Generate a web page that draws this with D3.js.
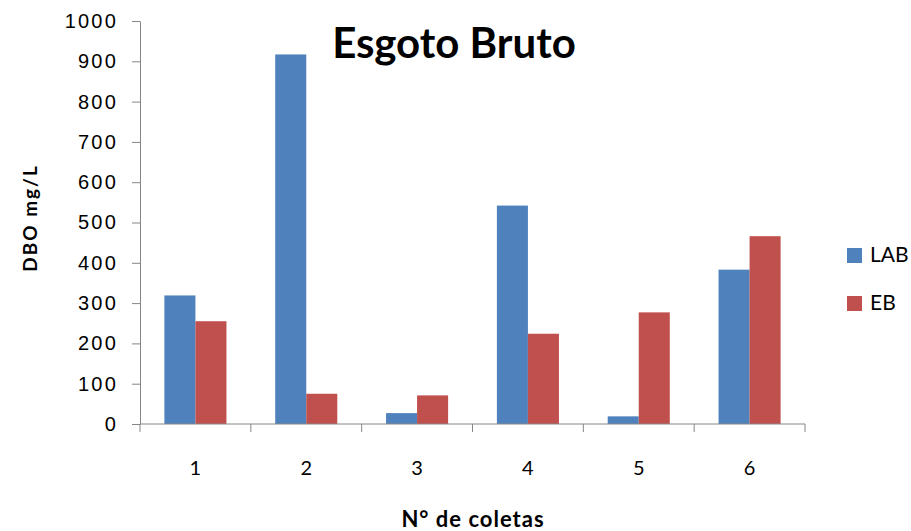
<!DOCTYPE html>
<html>
<head>
<meta charset="utf-8">
<script src="https://cdn.jsdelivr.net/npm/d3@7"></script>
<style>
    body { margin: 0; background: #fff; }
    svg { font-family: Lato, "Open Sans", sans-serif; }
    .axis path, .axis line { stroke: #868686; }
    .axis text { fill: #000; font-size: 20px; letter-spacing: 2.2px; }
</style>
</head>
<body>
<div id="chart"></div>
<script>
// Data
const categories = ["1", "2", "3", "4", "5", "6"];
const series = ["LAB", "EB"];
const labValues = [319, 917, 27, 542, 19, 383];
const ebValues = [255, 75, 71, 224, 277, 466];
const yTicks = [0, 100, 200, 300, 400, 500, 600, 700, 800, 900, 1000];
const colors = ["#4F81BD", "#C0504D"];

let margin = {top: 21, left: 140, right: 106, bottom: 107};
let width = 911 - margin.left - margin.right;
let height = 531 - margin.top - margin.bottom;

let svg = d3.select("#chart").append("svg")
    .attr("width", 911)
    .attr("height", 531);

let g = svg.append("g")
    .attr("transform", `translate(${margin.left}, ${margin.top})`);

let tableData = categories.map((c, i) => ({cat: c, values: [labValues[i], ebValues[i]]}));

// Scales
let x0 = d3.scaleBand().domain(categories).range([0, width]);
let x1 = d3.scaleBand().domain(series).range([x0.bandwidth() * 0.22, x0.bandwidth() * 0.78]);
let y = d3.scaleLinear().domain([0, 1000]).range([height, 0]);

// Bars
let groups = g.selectAll(".grp")
    .data(tableData)
    .enter().append("g")
    .attr("class", "grp")
    .attr("transform", d => `translate(${x0(d.cat)}, 0)`);

groups.selectAll("rect")
    .data(d => d.values.map((v, i) => ({key: series[i], value: v, i: i})))
    .enter().append("rect")
    .attr("x", d => x1(d.key))
    .attr("y", d => y(d.value))
    .attr("width", x1.bandwidth())
    .attr("height", d => y(0) - y(d.value))
    .attr("fill", d => colors[d.i]);

// Axes
let yAxis = d3.axisLeft(y).tickValues(yTicks).tickFormat(d3.format("d"))
    .tickSize(8).tickPadding(14).tickSizeOuter(0);
g.append("g").attr("class", "axis").call(yAxis);

// x axis: ticks at category boundaries
let xAxisG = g.append("g").attr("class", "axis")
    .attr("transform", `translate(0, ${height})`);
xAxisG.append("line").attr("x1", 0).attr("x2", width);
let bounds = categories.map(c => x0(c)).concat([width]);
xAxisG.selectAll(".tk").data(bounds).enter().append("line")
    .attr("x1", d => d).attr("x2", d => d)
    .attr("y1", 0).attr("y2", 8);
xAxisG.selectAll(".lbl").data(categories).enter().append("text")
    .attr("x", d => x0(d) + x0.bandwidth() / 2)
    .attr("y", 51)
    .attr("text-anchor", "middle")
    .style("letter-spacing", "0px")
    .text(d => d);

// Title
svg.append("text")
    .attr("x", 454)
    .attr("y", 58)
    .attr("text-anchor", "middle")
    .attr("font-size", "42px")
    .attr("font-weight", "bold")
    .text("Esgoto Bruto");

// Axis labels
svg.append("text")
    .attr("transform", "translate(37, 218) rotate(-90)")
    .attr("text-anchor", "middle")
    .attr("font-size", "19px")
    .attr("font-weight", "bold")
    .style("letter-spacing", "2px")
    .text("DBO mg/L");

svg.append("text")
    .attr("x", 473)
    .attr("y", 527)
    .attr("text-anchor", "middle")
    .attr("font-size", "22px")
    .attr("font-weight", "bold")
    .style("letter-spacing", "1px")
    .text("N° de coletas");

// Legend
let legend = svg.append("g").attr("transform", "translate(847, 248)");
series.forEach((s, i) => {
    legend.append("rect")
        .attr("x", 0).attr("y", i * 48)
        .attr("width", 15).attr("height", 15)
        .attr("fill", colors[i]);
    legend.append("text")
        .attr("x", 23).attr("y", i * 48 + 14)
        .attr("font-size", "21px")
        .text(s);
});
</script>
</body>
</html>
